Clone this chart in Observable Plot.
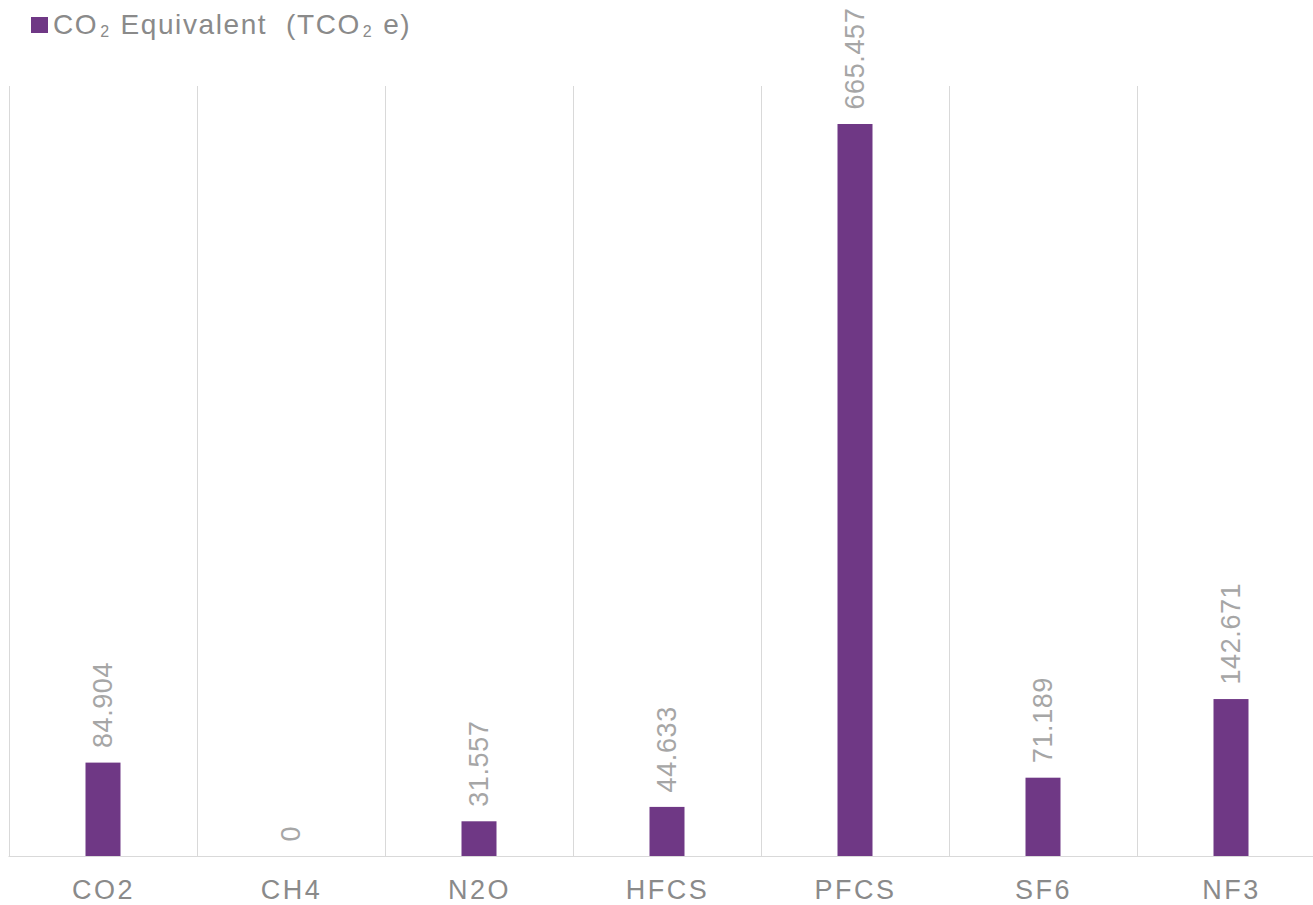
<!DOCTYPE html>
<html>
<head>
<meta charset="utf-8">
<script src="https://cdn.jsdelivr.net/npm/d3@7"></script>
<script src="https://cdn.jsdelivr.net/npm/@observablehq/plot@0.6"></script>
<style>
  html, body { margin: 0; padding: 0; background: #fff; overflow: hidden; }
  #wrap { position: relative; width: 1313px; height: 905px; font-family: "Liberation Sans", Arial, sans-serif; }
  #legend { position: absolute; left: 31px; top: 11px; display: flex; align-items: center; color: #8a8a8a; font-size: 28px; line-height: 28px; white-space: nowrap; letter-spacing: 1.6px; }
  #legend .sw { width: 17px; height: 16px; background: #6f3885; margin-right: 5px; }
  #legend sub { font-size: 16px; vertical-align: -3px; line-height: 0; letter-spacing: 0; margin: 0 2px; }
  #chart svg g[aria-label="x-axis tick label"] text { letter-spacing: 2.5px; }
  #chart svg g[aria-label="text"] text { letter-spacing: 0.6px; }
</style>
</head>
<body>
<div id="wrap">
  <div id="chart"></div>
  <div id="legend"><div class="sw"></div><span>CO<sub>2</sub> Equivalent&nbsp; (TCO<sub>2</sub> e)</span></div>
</div>
<script>
const categories = ["CO2", "CH4", "N2O", "HFCS", "PFCS", "SF6", "NF3"];
const values = [84.904, 0, 31.557, 44.633, 665.457, 71.189, 142.671];
const valueLabels = ["84.904", "0", "31.557", "44.633", "665.457", "71.189", "142.671"];

const data = categories.map((c, i) => ({cat: c, value: values[i], label: valueLabels[i]}));

const chart = Plot.plot({
  width: 1313,
  height: 905,
  marginTop: 86,
  marginBottom: 49,
  marginLeft: 8.5,
  marginRight: -12,
  style: {fontFamily: "'Liberation Sans', Arial, sans-serif", background: "#fff"},
  x: {domain: categories, padding: 0, label: null},
  y: {domain: [0, 700], axis: null},
  marks: [
    Plot.ruleX(categories, {x: d => d, dx: -94, stroke: "#d9d9d9", strokeWidth: 1}),
    Plot.ruleY([0], {stroke: "#d9d9d9", strokeWidth: 1}),
    Plot.barY(data, {x: "cat", y: "value", fill: "#6f3885", insetLeft: 76.5, insetRight: 76.5}),
    Plot.text(data, {x: "cat", y: "value", text: "label", rotate: -90, textAnchor: "start", dy: -15, fill: "#a6a6a6", fontSize: 27}),
    Plot.axisX({tickSize: 0, tickPadding: 23, fontSize: 27, fill: "#8a8a8a", label: null})
  ]
});
document.getElementById("chart").appendChild(chart);
</script>
</body>
</html>
